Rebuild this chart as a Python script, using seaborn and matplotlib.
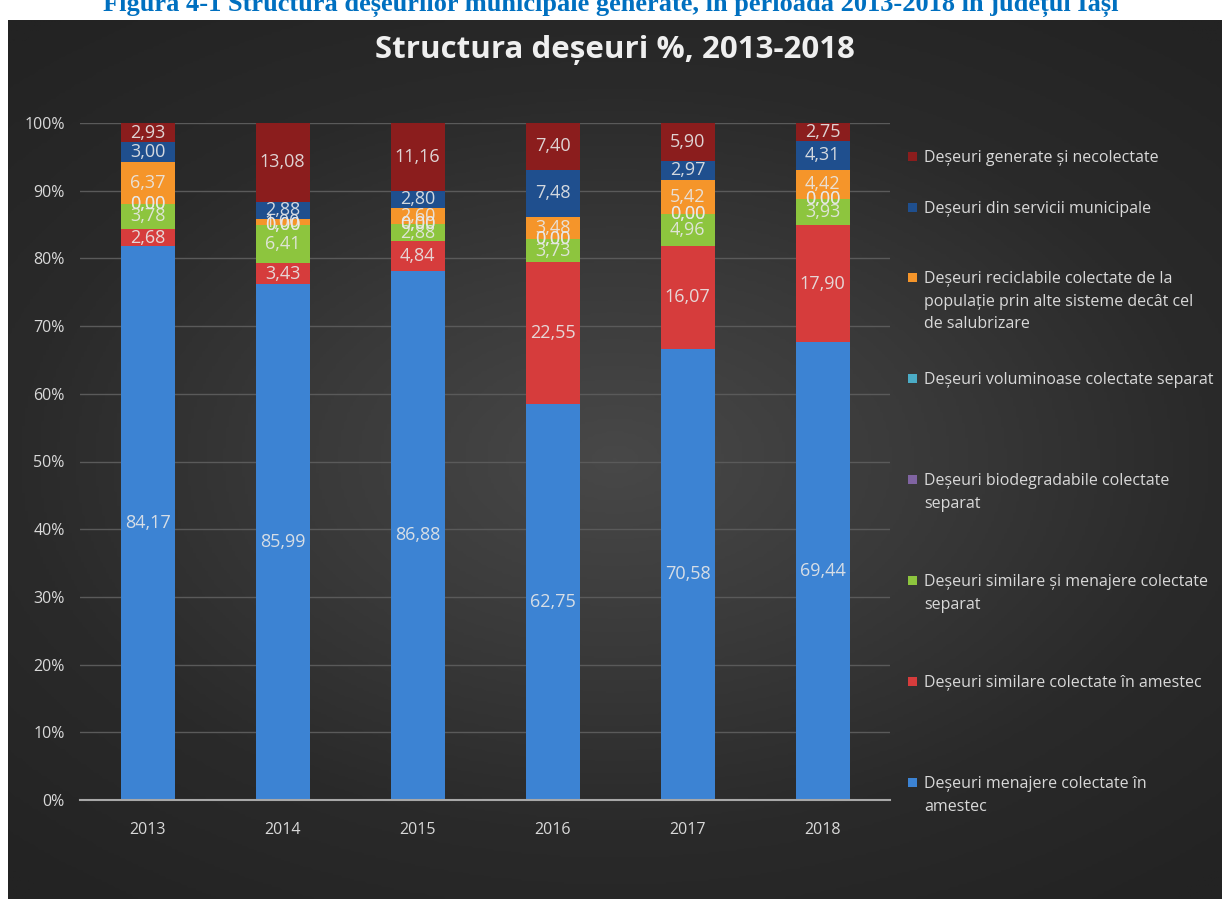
import numpy as np
import pandas as pd
import matplotlib
matplotlib.use('Agg')
import matplotlib.pyplot as plt
import seaborn as sns
from matplotlib.patches import Rectangle
from matplotlib.ticker import PercentFormatter

# valori (%, fiecare an normalizat la 100%)
years = [2013, 2014, 2015, 2016, 2017, 2018]
menajere_amestec = [84.17, 85.99, 86.88, 62.75, 70.58, 69.44]
similare_amestec = [2.68, 3.43, 4.84, 22.55, 16.07, 17.90]
similare_menajere_separat = [3.78, 6.41, 2.88, 3.73, 4.96, 3.93]
biodegradabile = [0.00, 0.00, 0.00, 0.00, 0.00, 0.00]
voluminoase = [0.00, 0.00, 0.00, 0.00, 0.00, 0.00]
reciclabile = [6.37, 1.00, 2.60, 3.48, 5.42, 4.42]
servicii_municipale = [3.00, 2.88, 2.80, 7.48, 2.97, 4.31]
necolectate = [2.93, 13.08, 11.16, 7.40, 5.90, 2.75]

# ordine de jos in sus
names = ['Deșeuri menajere colectate în\namestec',
         'Deșeuri similare colectate în amestec',
         'Deșeuri similare și menajere colectate\nseparat',
         'Deșeuri biodegradabile colectate\nseparat',
         'Deșeuri voluminoase colectate separat',
         'Deșeuri reciclabile colectate de la\npopulație prin alte sisteme decât cel\nde salubrizare',
         'Deșeuri din servicii municipale',
         'Deșeuri generate și necolectate']
values = [menajere_amestec, similare_amestec, similare_menajere_separat, biodegradabile,
          voluminoase, reciclabile, servicii_municipale, necolectate]
colors = ['#3c83d3', '#d63c3c', '#8dc53e', '#8064a2', '#4bacc6', '#f5952a', '#1f4f8e', '#8b1d1d']

rows = []
for name, vals in zip(names, values):
    for yr, v in zip(years, vals):
        rows.append((yr, name, v))
df = pd.DataFrame(rows, columns=['An', 'Categorie', 'Valoare'])

fig = plt.figure(figsize=(12.22, 8.99), dpi=100, facecolor='white')

# fundal cu gradient
bg = fig.add_axes([8/1222, 0, 1 - 8/1222, 1 - 20/899], zorder=0)
gx, gy = np.meshgrid(np.linspace(-1, 1, 400), np.linspace(-1, 1, 300))
r = np.sqrt((gx * 0.95) ** 2 + (gy * 1.1) ** 2)
bg.imshow(np.clip(r, 0, 1.4), cmap=matplotlib.colors.LinearSegmentedColormap.from_list(
    'bg', ['#484848', '#3a3a3a', '#2a2a2a', '#232323']), aspect='auto', vmin=0, vmax=1.4)
bg.axis('off')

ax = fig.add_axes([80/1222, 1 - 800/899, 810/1222, 677/899], zorder=1)
ax.set_facecolor('none')

sns.histplot(data=df, x='An', hue='Categorie', weights='Valoare', multiple='fill',
             discrete=True, shrink=0.4, hue_order=names[::-1], palette=colors[::-1],
             alpha=1, linewidth=0, legend=False, ax=ax)

# etichete de date
vals = np.array(values)
shares = vals / vals.sum(axis=0)
bottoms = np.cumsum(shares, axis=0) - shares
for i in range(len(names)):
    for j, yr in enumerate(years):
        ax.text(yr, bottoms[i, j] + shares[i, j] / 2, f'{vals[i, j]:.2f}'.replace('.', ','),
                ha='center', va='center', fontsize=13, color='#e8e8e8', alpha=0.9,
                family='Open Sans', zorder=5)

ax.set_xlim(2012.5, 2018.5)
ax.set_ylim(0, 1)
ax.set_xticks(years)
ax.set_xticklabels([str(y) for y in years])
ax.set_yticks(np.linspace(0, 1, 11))
ax.yaxis.set_major_formatter(PercentFormatter(1.0, decimals=0))
ax.set_xlabel('')
ax.set_ylabel('')
for s in ['top', 'right', 'left']:
    ax.spines[s].set_visible(False)
ax.spines['bottom'].set_color('#a8a8a8')
ax.spines['bottom'].set_linewidth(1.5)
ax.grid(axis='y', color='#5a5a5a', linewidth=1)
ax.grid(axis='x', visible=False)
ax.set_axisbelow(True)
ax.tick_params(length=0, colors='#d9d9d9', labelsize=11.5, pad=16)
ax.tick_params(axis='y', pad=11)
for t in ax.get_xticklabels() + ax.get_yticklabels():
    t.set_family('Open Sans')

# legenda, ca in Excel: marcaj la prima linie a fiecarei intrari
legend_rows = [156, 207, 277, 378, 479, 580, 681, 782]
for n, c, yp in zip(names[::-1], colors[::-1], legend_rows):
    fy = 1 - yp / 899
    fig.patches.append(Rectangle((908/1222, fy - 4.5/899), 9/1222, 9/899,
                                 transform=fig.transFigure, facecolor=c,
                                 edgecolor='none', zorder=3))
    fig.text(924/1222, fy + 6/899, n, ha='left', va='top', fontsize=11.5,
             family='Open Sans', color='#d9d9d9', linespacing=1.55, zorder=3)

fig.text(615/1222, 1 - 50/899, 'Structura deșeuri %, 2013-2018', ha='center', va='center',
         fontsize=22.5, fontweight='bold', family='Open Sans', color='#efefef', zorder=3)
fig.text(0.5, 1 - 11/899,
         'Figura 4-1 Structura deșeurilor municipale generate, în perioada 2013-2018 în județul Iași',
         ha='center', va='baseline', fontsize=19, fontweight='bold',
         family='Liberation Serif', color='#0070c0')

fig.savefig('out.png', dpi=100, facecolor='white')
